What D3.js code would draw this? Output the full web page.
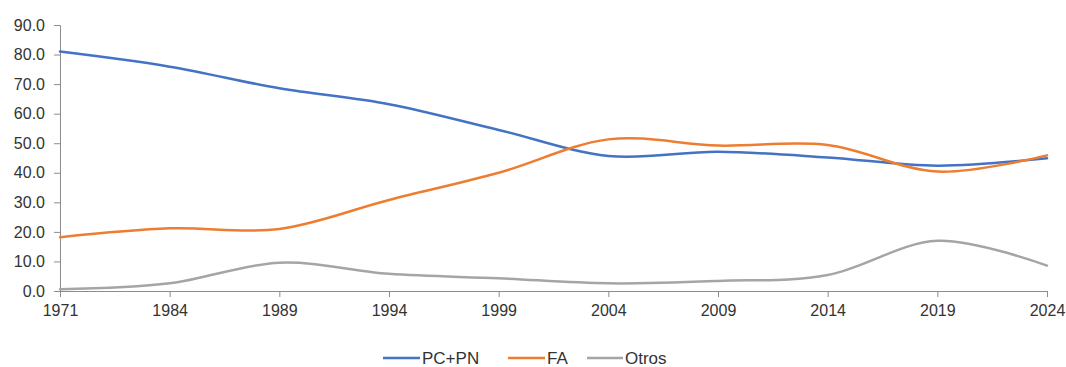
<!DOCTYPE html>
<html>
<head>
<meta charset="utf-8">
<script src="https://cdn.jsdelivr.net/npm/d3@7"></script>
<style>
  html, body { margin: 0; padding: 0; background: #ffffff; }
  svg { display: block; }
  text { font-family: "Liberation Sans", Arial, sans-serif; fill: #333333; }
</style>
</head>
<body>
<script>
const years = ["1971", "1984", "1989", "1994", "1999", "2004", "2009", "2014", "2019", "2024"];
const pcpn  = [81.0, 75.9, 68.6, 63.2, 54.5, 45.7, 47.1, 45.2, 42.4, 44.9];
const fa    = [18.2, 21.2, 21.0, 30.8, 40.0, 51.3, 49.2, 49.4, 40.4, 45.9];
const otros = [0.6, 2.6, 9.6, 5.8, 4.3, 2.6, 3.4, 5.4, 17.0, 8.6];
const yTicks = [0, 10, 20, 30, 40, 50, 60, 70, 80, 90];
const seriesNames = ["PC+PN", "FA", "Otros"];
const seriesColors = ["#4472C4", "#ED7D31", "#A5A5A5"];
const seriesValues = [pcpn, fa, otros];

(function () {
const W = 1066, H = 367;
const mLeft = 60, mRight = 1047, mTop = 25, mBottom = 291;

const svg = d3.select("body").append("svg").attr("width", W).attr("height", H);

const x = d3.scalePoint().domain(years).range([mLeft, mRight]).padding(0);
const y = d3.scaleLinear().domain([0, 90]).range([mBottom, mTop]);

// Y axis
const yAxis = svg.append("g").attr("transform", `translate(${mLeft},0)`)
  .call(d3.axisLeft(y).tickValues(yTicks).tickFormat(d3.format(".1f")).tickSizeOuter(0).tickSize(6).tickPadding(9));
yAxis.selectAll("path, line").attr("stroke", "#8c8c8c").attr("stroke-width", 1);
yAxis.selectAll("text").style("font-size", "16px").style("font-family", "Liberation Sans, Arial, sans-serif").attr("fill", "#333333");

// X axis
const xAxis = svg.append("g").attr("transform", `translate(0,${mBottom})`)
  .call(d3.axisBottom(x).tickSizeOuter(0).tickSize(6).tickPadding(8));
xAxis.selectAll("path, line").attr("stroke", "#8c8c8c").attr("stroke-width", 1);
xAxis.selectAll("text").style("font-size", "16px").style("font-family", "Liberation Sans, Arial, sans-serif").attr("fill", "#333333");

// Lines
const line = d3.line()
  .x((d, i) => x(years[i]))
  .y(d => y(d))
  .curve(d3.curveCatmullRom.alpha(0));

seriesValues.forEach((vals, k) => {
  svg.append("path")
    .datum(vals)
    .attr("fill", "none")
    .attr("stroke", seriesColors[k])
    .attr("stroke-width", 2.5)
    .attr("stroke-linejoin", "round")
    .attr("stroke-linecap", "round")
    .attr("d", line);
});

// Legend
const legendY = 358;
const legendItems = [
  {x0: 383, x1: 420},
  {x0: 508, x1: 545},
  {x0: 587, x1: 623}
];
const lg = svg.append("g");
seriesNames.forEach((name, k) => {
  lg.append("line")
    .attr("x1", legendItems[k].x0).attr("x2", legendItems[k].x1)
    .attr("y1", legendY).attr("y2", legendY)
    .attr("stroke", seriesColors[k]).attr("stroke-width", 2.5);
  lg.append("text")
    .attr("x", legendItems[k].x1 + 2)
    .attr("y", legendY)
    .attr("dy", "0.35em")
    .style("font-size", "17px")
    .text(name);
});
})();
</script>
</body>
</html>
